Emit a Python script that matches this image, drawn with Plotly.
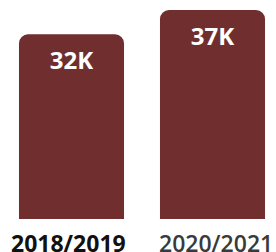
import plotly.graph_objects as go

categories = ["2018/2019", "2020/2021"]
values = [32.7, 37]
labels = ["32K", "37K"]

W, H = 276, 252
fig = go.Figure(go.Bar(
    x=categories, y=values, text=labels,
    textposition="inside", insidetextanchor="end",
    textfont=dict(family="Open Sans", size=24, color="white", weight="bold"),
    marker=dict(color="#702e2e", line=dict(width=0)),
    width=0.745, hoverinfo="skip",
))

fig.update_layout(
    width=W, height=H, margin=dict(l=0, r=0, t=0, b=33),
    paper_bgcolor="white", plot_bgcolor="white",
    barcornerradius=9, showlegend=False,
    xaxis=dict(range=[-71.5/141, (276-71.5)/141], showticklabels=False,
               showgrid=False, zeroline=False, showline=False, ticks=""),
    yaxis=dict(range=[0, 37*219/209], visible=False),
)

weights = ["bold", 600]
colors = ["#111111", "#3a3a3a"]
shifts = [-3, 3]
for c, w, col, s in zip(categories, weights, colors, shifts):
    fig.add_annotation(x=c, y=0, yref="paper", yanchor="top", yshift=-6, xshift=s,
                       text=c, showarrow=False,
                       font=dict(family="Open Sans", size=23, color=col, weight=w))

fig.write_html("out.html", config={"displayModeBar": False},
               post_script="document.body.style.margin='0';")
